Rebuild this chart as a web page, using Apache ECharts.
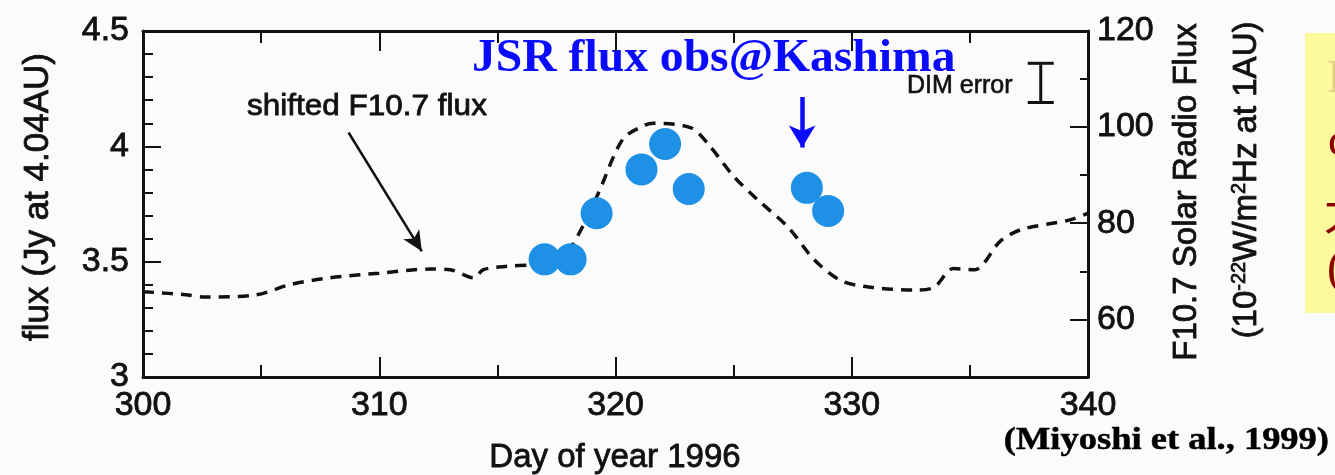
<!DOCTYPE html>
<html>
<head>
<meta charset="utf-8">
<title>JSR flux obs@Kashima</title>
<script src="https://cdn.jsdelivr.net/npm/echarts@6/dist/echarts.min.js"></script>
<style>
    html, body { margin: 0; padding: 0; background: #fbfbfb; }
    #chart { width: 1335px; height: 475px; }
</style>
</head>
<body>
<div id="chart"></div>
<script>
    // shifted F10.7 flux (dashed curve), read in left-axis units
    var f107Days = [300, 301.9, 302.5, 304.8, 306.2, 307.9, 310, 312.2, 313, 314, 314.4, 315.4, 316.4, 317.3,
        318.1, 319.2, 320.3, 321.2, 321.6, 323.2, 324, 325, 326, 327.3, 328.4, 329.5, 330.7, 332.8, 333.5,
        334.3, 335.2, 336.3, 337.2, 339.2, 340];
    var f107Flux = [3.37, 3.356, 3.347, 3.356, 3.40, 3.43, 3.45, 3.468, 3.465, 3.43, 3.465, 3.48, 3.485, 3.49,
        3.56, 3.78, 4.03, 4.09, 4.10, 4.08, 4.0, 3.87, 3.77, 3.65, 3.51, 3.42, 3.39, 3.377, 3.39,
        3.47, 3.465, 3.59, 3.64, 3.68, 3.71];

    // JSR flux observed at Kashima
    var jsrDays = [317, 318.1, 319.2, 321.1, 322.1, 323.1, 328.1, 329];
    var jsrFlux = [3.51, 3.51, 3.71, 3.90, 4.01, 3.815, 3.82, 3.72];

    // DIM error bar: [day, low, high]
    var dimError = [[338, 4.19, 4.36]];

    // annotation arrows: [[day, flux], [day, flux]]
    var f107Arrow = [[308.7, 4.06], [311.8, 3.545]];
    var jsrArrow = [[327.9, 4.214], [327.9, 3.995]];

    var xTicks = [300, 340, 10];
    var leftTicks = [3, 4.5, 0.5];
    var rightLabels = [60, 80, 100, 120];
    var rightMinor = [70, 90, 110];

    var ink = '#111';
    var chart = echarts.init(document.getElementById('chart'));

    function zip(xs, ys) {
        return xs.map(function (x, i) { return [x, ys[i]]; });
    }

    // printed look: slightly heavier strokes than plain Liberation Sans
    function sans(size, extra) {
        var s = { fontSize: size, color: ink, fontFamily: 'Liberation Sans', textBorderColor: ink, textBorderWidth: 0.8 };
        for (var k in extra) s[k] = extra[k];
        return s;
    }

    var frame = { show: true, lineStyle: { color: ink, width: 3 } };

    chart.setOption({
        animation: false,
        backgroundColor: '#fbfbfb',
        grid: { left: 143, right: 247, top: 31, bottom: 98 },
        xAxis: [{
            type: 'value', min: xTicks[0], max: xTicks[1], interval: xTicks[2],
            axisLine: frame,
            axisTick: { inside: true, length: 20, lineStyle: { color: ink, width: 2 } },
            minorTick: { show: true, splitNumber: 2, length: 12, lineStyle: { color: ink, width: 2 } },
            axisLabel: sans(34, { margin: 12 }),
            splitLine: { show: false }
        }, {
            type: 'value', position: 'top', min: xTicks[0], max: xTicks[1], interval: xTicks[2],
            axisLine: frame,
            axisTick: { inside: true, length: 20, lineStyle: { color: ink, width: 2 } },
            minorTick: { show: true, splitNumber: 2, length: 12, lineStyle: { color: ink, width: 2 } },
            axisLabel: { show: false },
            splitLine: { show: false }
        }],
        yAxis: [{
            type: 'value', min: leftTicks[0], max: leftTicks[1], interval: leftTicks[2],
            axisLine: frame,
            axisTick: { inside: true, length: 18, lineStyle: { color: ink, width: 2 } },
            minorTick: { show: true, splitNumber: 5, length: 10, lineStyle: { color: ink, width: 2 } },
            axisLabel: sans(34, { margin: 14 }),
            splitLine: { show: false }
        }, {
            type: 'value', position: 'right', min: 48, max: 120,
            axisLine: frame,
            axisTick: { inside: true, length: 18, customValues: rightLabels, lineStyle: { color: ink, width: 2 } },
            axisLabel: sans(34, { margin: 9, customValues: rightLabels }),
            splitLine: { show: false }
        }, {
            type: 'value', position: 'right', min: 48, max: 120,
            axisLine: { show: false },
            axisTick: { inside: true, length: 8, customValues: rightMinor, lineStyle: { color: ink, width: 2 } },
            axisLabel: { show: false },
            splitLine: { show: false }
        }],
        series: [{
            type: 'line',
            data: zip(f107Days, f107Flux),
            showSymbol: false,
            smooth: 0.3,
            lineStyle: { color: ink, width: 3.5, type: [11, 8] },
            silent: true,
            z: 2
        }, {
            type: 'scatter',
            data: zip(jsrDays, jsrFlux),
            symbolSize: 32,
            itemStyle: { color: '#1e90e6', opacity: 1 },
            z: 3
        }, {
            type: 'custom',
            data: dimError,
            renderItem: function (params, api) {
                var lo = api.coord([api.value(0), api.value(1)]);
                var hi = api.coord([api.value(0), api.value(2)]);
                var w = 13;
                var st = { stroke: ink, lineWidth: 3 };
                return {
                    type: 'group',
                    children: [
                        { type: 'line', shape: { x1: lo[0], y1: lo[1], x2: hi[0], y2: hi[1] }, style: st },
                        { type: 'line', shape: { x1: lo[0] - w, y1: lo[1], x2: lo[0] + w, y2: lo[1] }, style: st },
                        { type: 'line', shape: { x1: hi[0] - w, y1: hi[1], x2: hi[0] + w, y2: hi[1] }, style: st }
                    ]
                };
            }
        }, {
            type: 'line',
            data: [],
            silent: true,
            markLine: {
                silent: true,
                symbol: ['none', 'arrow'],
                label: { show: false },
                emphasis: { disabled: true },
                data: [
                    [{ coord: f107Arrow[0], lineStyle: { color: ink, width: 2.5, type: 'solid' } },
                     { coord: f107Arrow[1], symbolSize: [14, 20] }],
                    [{ coord: jsrArrow[0], lineStyle: { color: '#0a0aff', width: 4.5, type: 'solid' } },
                     { coord: jsrArrow[1], symbolSize: [20, 22] }]
                ]
            }
        }],
        graphic: [
            { type: 'text', x: 247, y: 107, scaleX: 1.05, style: { text: 'shifted F10.7 flux', fontSize: 30, fill: ink, stroke: ink, lineWidth: 0.8, fontFamily: 'Liberation Sans', verticalAlign: 'middle' } },
            { type: 'text', x: 472, y: 59, scaleX: 1.035, style: { text: 'JSR flux obs@Kashima', fontSize: 46, fontWeight: 'bold', fill: '#0a0aff', fontFamily: 'Liberation Serif', verticalAlign: 'middle' } },
            { type: 'text', x: 907, y: 86, style: { text: 'DIM error', fontSize: 25, fill: ink, stroke: ink, lineWidth: 0.6, fontFamily: 'Liberation Sans', verticalAlign: 'middle' } },
            { type: 'text', x: 38, y: 197, rotation: Math.PI / 2, style: { text: 'flux (Jy at 4.04AU)', fontSize: 35, fill: ink, stroke: ink, lineWidth: 0.8, fontFamily: 'Liberation Sans', align: 'center', verticalAlign: 'middle' } },
            { type: 'text', x: 1187, y: 192, rotation: Math.PI / 2, style: { text: 'F10.7 Solar Radio Flux', fontSize: 33, fill: ink, stroke: ink, lineWidth: 0.8, fontFamily: 'Liberation Sans', align: 'center', verticalAlign: 'middle' } },
            { type: 'text', x: 1247, y: 180, rotation: Math.PI / 2, style: {
                text: '(10{sup|-22}W/m{sup|2}Hz at 1AU)', fontSize: 33, fill: ink, stroke: ink, lineWidth: 0.8, fontFamily: 'Liberation Sans', align: 'center', verticalAlign: 'middle',
                lineHeight: 36,
                rich: { sup: { fontSize: 20, verticalAlign: 'top', lineHeight: 36, fill: ink, fontFamily: 'Liberation Sans' } }
            } },
            { type: 'text', x: 615, y: 458, style: { text: 'Day of year 1996', fontSize: 33, fill: ink, stroke: ink, lineWidth: 0.8, fontFamily: 'Liberation Sans', align: 'center', verticalAlign: 'middle' } },
            { type: 'text', x: 1329, y: 441, scaleX: 1.14, style: { text: '(Miyoshi et al., 1999)', fontSize: 32, fontWeight: 'bold', fill: '#000', stroke: '#000', lineWidth: 0.5, fontFamily: 'Liberation Serif', align: 'right', verticalAlign: 'middle' } },
            // yellow note box cut by the right edge
            { type: 'rect', shape: { x: 1305, y: 33, width: 40, height: 280 }, style: { fill: '#fdfa9e' }, z: 0 },
            { type: 'text', x: 1327, y: 80, style: { text: 'I', fontSize: 46, fill: '#e2cf85', fontFamily: 'Liberation Serif', verticalAlign: 'middle' } },
            { type: 'text', x: 1328, y: 143, style: { text: 'c', fontSize: 46, fill: '#8b0000', fontFamily: 'Liberation Serif', verticalAlign: 'middle' } },
            { type: 'text', x: 1324, y: 212, style: { text: '太', fontSize: 46, fill: '#8b0000', fontFamily: 'Noto Sans CJK JP', verticalAlign: 'middle' } },
            { type: 'text', x: 1327, y: 270, style: { text: '(', fontSize: 48, fill: '#8b0000', fontFamily: 'Liberation Serif', verticalAlign: 'middle' } }
        ]
    });
</script>
</body>
</html>
